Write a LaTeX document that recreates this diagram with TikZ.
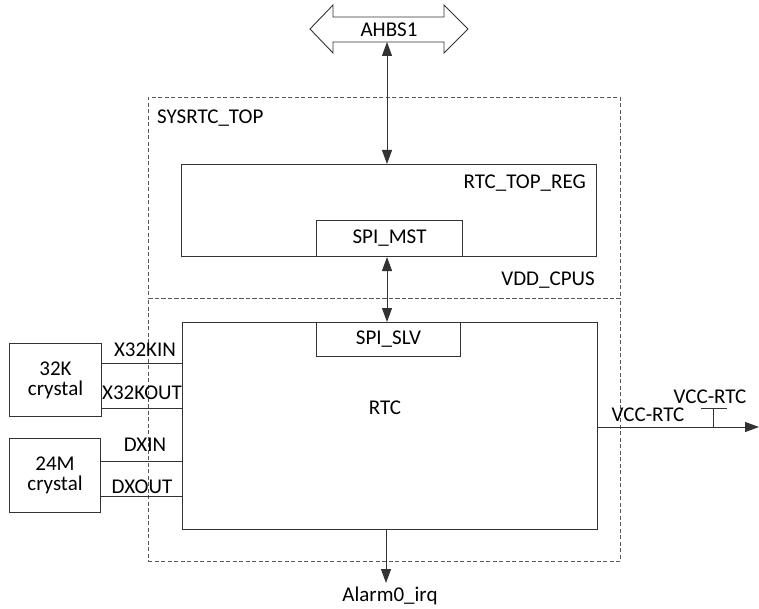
\documentclass[tikz,border=0pt]{standalone}
\usepackage{fontspec}
\setmainfont{Carlito}
\usetikzlibrary{arrows.meta,calc}
\begin{document}
\begin{tikzpicture}[x=1pt,y=-1pt,
  box/.style={draw=black!80, line width=1pt, rectangle, inner sep=0pt, anchor=north west},
  dbox/.style={draw=black!65, line width=0.9pt, dash pattern=on 4pt off 2.5pt, rectangle, inner sep=0pt, anchor=north west},
  lbl/.style={font=\fontsize{21}{24}\selectfont, inner sep=0pt, text=black},
  conn/.style={draw=black!80, line width=1pt},
  tip/.style={Triangle[length=14pt,width=10pt]},
  arr/.style={conn, -{Triangle[length=14pt,width=10pt]}},
  darr/.style={conn, {Triangle[length=14pt,width=10pt]}-{Triangle[length=14pt,width=10pt]}}]
\useasboundingbox (0,0) rectangle (759,609);

% dashed domains
\node[dbox, minimum width=472pt, minimum height=201pt] (sys) at (148,97) {};
\node[dbox, minimum width=472pt, minimum height=263pt] (rtcdom) at (148,298) {};
\node[lbl, anchor=west] (syslbl) at (157,118) {SYSRTC\_TOP};
\node[lbl, anchor=east] (vddlbl) at (595,280) {VDD\_CPUS};

% AHBS1 bus arrow
\draw[conn, line width=0.9pt] (310,29) -- (333,5) -- (333,17) -- (444,17) -- (444,5) -- (468,29)
  -- (444,53) -- (444,42) -- (333,42) -- (333,53) -- cycle;
\node[lbl] (ahb) at (389,30) {AHBS1};
\coordinate (ahbbot) at (387,42);

% RTC_TOP_REG
\node[box, minimum width=415pt, minimum height=92pt] (reg) at (181,164) {};
\node[lbl, anchor=east] (reglbl) at (586,183) {RTC\_TOP\_REG};
\node[box, minimum width=146pt, minimum height=36pt] (mst) at (316,220) {};
\node[lbl] at (mst.center) {SPI\_MST};

% RTC
\node[box, minimum width=415pt, minimum height=207pt] (rtc) at (182,322) {};
\node[box, minimum width=144pt, minimum height=34pt] (slv) at (316,322) {};
\node[lbl] at (slv.center) {SPI\_SLV};
\node[lbl] (rtclbl) at (385,408) {RTC};

% crystals
\node[box, minimum width=92pt, minimum height=73pt] (k32) at (9,343) {};
\node[lbl, align=center] at (k32.center) {32K\\[-4pt]crystal};
\node[box, minimum width=91pt, minimum height=74pt] (m24) at (9,438) {};
\node[lbl, align=center] at (m24.center) {24M\\[-4pt]crystal};

\draw[conn] (k32.east |- 0,363) -- (rtc.west |- 0,363);
\draw[conn] (k32.east |- 0,408) -- (rtc.west |- 0,408);
\draw[conn] (m24.east |- 0,461) -- (rtc.west |- 0,461);
\draw[conn] (m24.east |- 0,496) -- (rtc.west |- 0,496);
\node[lbl] (x32in) at (145,350) {X32KIN};
\node[lbl] (x32out) at (142,393) {X32KOUT};
\node[lbl] (dxin) at (145,445) {DXIN};
\node[lbl] (dxout) at (142,487) {DXOUT};

% bus connections
\draw[darr] (ahbbot) -- (reg.north -| ahbbot);
\draw[darr] (mst.south -| 387,0) -- (slv.north -| 387,0);

% alarm
\node[lbl] (alarm) at (390,596) {Alarm0\_irq};
\coordinate (alarmtip) at (386,583);
\draw[arr] (rtc.south -| alarmtip) -- (alarmtip);

% VCC-RTC
\coordinate (vccend) at (759,427);
\draw[arr] (rtc.east |- vccend) -- (vccend);
\node[lbl] (vcc1) at (648,415) {VCC-RTC};
\node[lbl] (vcc2) at (710,397) {VCC-RTC};
\draw[conn] (713,427) -- (713,408);
\draw[conn] (701,408) -- (727,408);
\end{tikzpicture}
\end{document}
